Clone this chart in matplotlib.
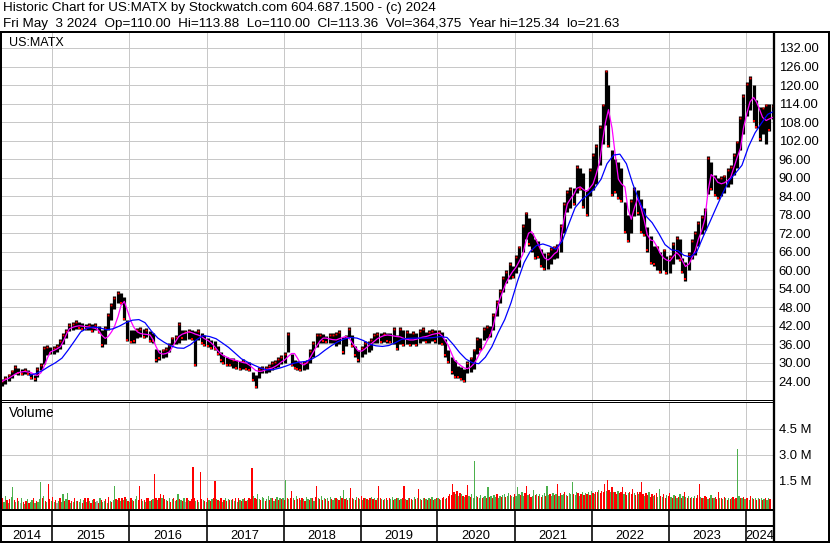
import numpy as np
import pandas as pd
import matplotlib
matplotlib.use('Agg')
import matplotlib.pyplot as plt
import matplotlib.dates as mdates
from matplotlib.lines import Line2D

plt.rcParams['font.family'] = ['Liberation Sans', 'DejaVu Sans']

# ---- data ----
title_1 = 'Historic Chart for US:MATX by Stockwatch.com 604.687.1500 - (c) 2024'
title_2 = 'Fri May  3 2024  Op=110.00  Hi=113.88  Lo=110.00  Cl=113.36  Vol=364,375  Year hi=125.34  lo=21.63'
symbol = 'US:MATX'

# half-month price ranges, May 2014 .. May 2024
price_lo = [
    22.5, 23.2, 24.0, 25.0, 26.5, 26.2, 26.0, 26.5, 26.0, 24.8, 24.2, 25.5, 27.6, 29.5, 32.5, 32.8,
    33.0, 33.5, 34.5, 36.0, 38.0, 40.2, 40.6, 41.0, 40.8, 40.5, 40.5, 40.6, 40.0, 40.5, 39.5, 35.2, 36.0, 40.6, 43.8, 47.5, 49.5, 49.0, 43.8, 37.0,
    36.3, 36.5, 37.9, 38.2, 37.9, 38.5, 36.8, 36.5, 30.4, 31.0, 31.4, 32.0, 33.5, 35.7, 36.0, 36.5, 37.5, 37.4, 37.8, 37.4, 28.8, 37.5, 36.0, 35.3,
    35.0, 34.5, 34.2, 32.5, 30.4, 29.5, 28.8, 29.0, 28.3, 28.0, 27.7, 28.0, 27.7, 27.2, 24.0, 21.8, 25.0, 26.6, 26.8, 27.0, 27.7, 28.2, 28.5, 29.5,
    30.0, 33.6, 29.0, 28.0, 27.5, 27.2, 27.5, 28.0, 30.0, 32.0, 35.0, 36.3, 36.5, 36.3, 36.5, 36.5, 35.3, 36.0, 33.0, 35.5, 38.5, 35.0, 32.0, 30.4,
    32.0, 33.0, 33.5, 34.0, 36.3, 36.5, 36.3, 36.8, 36.5, 36.3, 36.0, 34.2, 36.0, 35.5, 36.0, 35.3, 36.0, 35.5, 36.5, 37.0, 36.3, 36.5, 37.0, 36.5,
    36.0, 35.7, 32.0, 30.0, 26.5, 25.0, 25.0, 24.5, 23.8, 26.6, 27.0, 28.0, 33.0, 34.0, 37.3, 38.0, 38.5, 40.6, 45.0, 49.5, 53.0, 56.0, 57.0, 57.5,
    59.0, 61.0, 66.0, 70.0, 68.0, 66.0, 63.5, 64.0, 61.0, 60.0, 60.5, 62.0, 63.5, 64.0, 66.0, 72.0, 79.0, 80.0, 81.0, 85.0, 86.0, 80.0, 77.6, 84.0,
    86.0, 88.0, 94.0, 101.0, 107.0, 100.0, 84.0, 85.0, 83.0, 82.0, 72.0, 69.0, 72.0, 77.6, 78.0, 72.0, 71.0, 66.0, 62.0, 61.5, 60.0, 59.0, 60.0, 58.7,
    59.0, 62.0, 63.5, 63.0, 59.0, 56.6, 60.0, 63.6, 65.0, 68.0, 71.6, 73.0, 84.7, 86.0, 84.0, 83.0, 84.0, 85.0, 87.0, 88.0, 91.0, 93.0, 99.0, 104.0,
    110.0, 112.0, 108.0, 106.0, 102.0, 104.0, 101.0, 105.0, 109.0,
]
price_hi = [
    24.8, 25.6, 26.5, 27.8, 29.2, 28.4, 28.0, 28.2, 27.8, 26.8, 26.2, 28.5, 30.0, 35.5, 35.7, 35.2,
    35.5, 36.0, 37.8, 39.5, 41.0, 43.0, 43.3, 43.8, 43.2, 43.0, 42.7, 43.0, 42.5, 42.8, 42.0, 40.5, 42.0, 46.0, 49.3, 51.5, 53.2, 52.5, 51.4, 44.0,
    40.6, 40.5, 41.2, 41.5, 41.0, 41.2, 40.2, 39.5, 34.5, 34.0, 34.6, 35.0, 36.5, 38.5, 39.0, 43.3, 40.6, 40.6, 41.0, 40.5, 40.2, 41.0, 39.6, 39.0,
    38.0, 37.5, 37.0, 35.3, 33.5, 32.6, 32.0, 31.5, 31.5, 31.0, 30.5, 31.2, 30.4, 30.2, 27.0, 26.1, 28.5, 28.8, 29.0, 29.5, 30.5, 31.0, 31.8, 32.6,
    33.5, 40.0, 33.0, 31.0, 30.5, 30.2, 30.5, 31.0, 34.5, 37.0, 39.6, 39.6, 39.2, 38.8, 39.5, 39.5, 40.0, 40.5, 38.5, 39.0, 41.7, 39.0, 35.3, 34.0,
    35.5, 37.0, 37.0, 38.0, 39.5, 40.0, 39.6, 40.0, 39.8, 39.5, 41.7, 39.0, 41.5, 40.5, 40.7, 39.5, 40.2, 39.8, 41.0, 41.7, 40.0, 40.5, 41.0, 40.5,
    40.7, 40.0, 37.8, 34.1, 32.0, 30.8, 29.0, 28.5, 28.0, 30.5, 32.0, 34.6, 38.4, 38.0, 41.5, 42.2, 42.0, 46.0, 50.3, 54.0, 58.0, 60.0, 62.5, 61.5,
    65.0, 68.0, 75.0, 79.0, 77.0, 72.0, 70.0, 69.5, 67.0, 65.5, 66.0, 67.5, 68.0, 68.5, 75.0, 82.0, 86.0, 87.0, 86.5, 94.0, 93.0, 91.6, 86.0, 93.0,
    98.0, 101.0, 107.0, 114.0, 125.0, 120.0, 99.0, 96.0, 95.0, 93.0, 82.0, 78.0, 83.0, 87.0, 86.0, 83.0, 80.0, 74.0, 71.0, 68.0, 68.0, 66.0, 67.0, 64.7,
    65.0, 69.0, 71.0, 70.0, 64.0, 62.5, 66.0, 70.0, 72.7, 76.0, 78.0, 80.0, 97.0, 95.0, 91.0, 90.0, 90.5, 91.0, 93.0, 94.0, 98.0, 102.0, 110.0, 117.0,
    121.0, 123.0, 120.0, 115.0, 113.0, 113.0, 114.0, 113.9, 113.9,
]
# short moving average (magenta), one value per half-month
ma_short = [
    24.0, 24.5, 25.0, 25.6, 26.3, 26.8, 27.0, 27.2, 27.0, 26.8, 26.2, 25.9, 26.8, 28.8, 31.5, 33.5,
    34.0, 34.5, 35.2, 37.0, 39.2, 41.0, 41.5, 41.8, 42.0, 41.9, 41.7, 41.6, 41.4, 41.2, 40.5, 39.0, 37.9, 38.5, 40.0, 41.7, 45.0, 48.5, 49.9, 47.0,
    43.5, 41.5, 40.0, 39.5, 39.3, 39.2, 39.0, 37.5, 35.0, 33.2, 32.8, 33.0, 33.5, 35.0, 37.0, 38.5, 39.3, 39.6, 40.0, 39.8, 39.3, 39.0, 38.5, 37.8,
    37.2, 36.5, 35.3, 34.0, 33.0, 32.3, 31.8, 31.3, 31.0, 30.7, 30.4, 30.1, 29.9, 29.3, 28.3, 27.5, 27.2, 27.3, 27.7, 28.0, 28.3, 28.8, 29.5, 30.3,
    31.0, 32.0, 33.0, 33.0, 31.5, 29.8, 29.3, 30.0, 31.8, 33.5, 35.5, 37.0, 38.0, 38.0, 37.7, 37.5, 37.4, 37.8, 38.2, 38.5, 38.0, 36.5, 35.0, 33.8,
    33.8, 34.5, 35.5, 36.2, 37.0, 37.8, 38.4, 38.8, 39.0, 38.9, 38.7, 38.5, 38.4, 38.0, 37.6, 37.4, 37.4, 37.6, 38.0, 38.3, 38.5, 38.8, 39.2, 39.4,
    39.6, 38.8, 37.0, 35.5, 33.0, 30.8, 29.8, 29.0, 28.3, 28.1, 28.7, 29.7, 31.5, 33.5, 35.0, 37.0, 39.0, 42.0, 47.0, 50.5, 53.5, 56.0, 58.0, 59.5,
    61.0, 62.8, 65.0, 69.0, 72.0, 72.5, 70.5, 68.5, 66.0, 64.0, 63.3, 64.0, 65.3, 66.0, 70.0, 76.0, 81.5, 83.0, 84.5, 86.5, 87.0, 86.2, 85.5, 86.5,
    88.0, 91.0, 95.0, 102.0, 108.0, 112.0, 106.0, 98.0, 89.5, 88.0, 87.0, 80.0, 76.5, 80.0, 83.5, 80.5, 76.0, 71.5, 69.8, 69.5, 67.5, 65.5, 64.0, 63.3,
    63.0, 64.3, 65.7, 64.8, 63.0, 61.2, 62.0, 64.0, 66.5, 70.0, 73.0, 76.5, 86.0, 91.0, 90.0, 88.5, 88.0, 88.3, 89.0, 90.0, 93.5, 96.5, 99.5, 106.0,
    111.0, 114.5, 116.0, 114.5, 112.0, 109.5, 108.5, 109.0, 109.5,
]
# long moving average (blue), one value per month
ma_long = [
    np.nan, np.nan, np.nan, np.nan, 26.0, 26.5, 27.5, 28.8,
    30.0, 31.5, 34.0, 37.0, 40.0, 41.2, 41.6, 41.3, 40.7, 41.0, 41.9, 43.0,
    43.8, 44.0, 43.0, 40.2, 38.0, 36.6, 35.5, 34.8, 34.7, 35.8, 37.5, 38.8,
    38.5, 37.8, 36.5, 35.0, 33.2, 31.3, 30.2, 29.2, 28.3, 27.7, 27.8, 28.3,
    29.0, 29.8, 30.2, 30.4, 31.2, 32.4, 34.0, 35.5, 36.8, 37.7, 38.2, 38.0,
    37.2, 36.0, 35.5, 35.3, 35.6, 36.5, 37.6, 37.9, 38.0, 38.0, 38.0, 38.2,
    38.5, 38.2, 36.0, 33.3, 31.2, 30.0, 29.7, 31.8, 35.2, 39.8, 44.0, 49.5,
    56.5, 62.5, 66.0, 68.0, 68.5, 67.8, 66.8, 69.5, 75.0, 80.3, 82.8, 84.5,
    86.5, 89.5, 94.5, 97.3, 97.6, 94.5, 88.0, 82.5, 77.6, 75.4, 72.0, 68.3,
    66.6, 66.3, 64.8, 64.3, 66.0, 71.0, 75.5, 80.3, 85.0, 89.0, 91.5, 94.0,
    100.0, 104.5, 107.5, 110.5, 111.5,
]
# weekly volume in units of 10,000 shares; g = up week, r = down week, n = unchanged
volume_weeks = [
    '30g 45r 25g 60g 35r 20g 40r 55g 110g 35r 25g 50r 30g 20n 45g 25r 15g 30r 40g 20r 25g 35g 50r 20g 30r 25g 40g 140g 45r 60g 30r 25g 130r 40r 30g 55r 25g 35r 20n 30g 45r 25g 70g 30r 40g 75g 35r 20g 30r 25g 45r 30g',
    '30r 25g 40g 20r 35g 45r 25g 50r 30g 20r 35g 40r 25g 30n 20r 45g 35r 25g 30g 40r 20g 55r 30g 25r 35g 120g 40r 35g 50r 30g 45r 35g 55r 40g 30r 25g 45r 35g 30r 40g 60g 35r 115r 40r 30g 35r 25g 45r 50r 30g 35r 40g',
    '190r 45r 35g 50r 70r 45g 65r 40r 35g 30r 45g 25r 40g 50r 30g 35r 70g 40r 35g 30r 45g 25n 50r 35g 30r 40r 230r 45r 30g 35r 25g 200r 40r 35g 30r 25g 45r 35g 30r 40g 50r 145r 40g 35r 30g 45r 25g 35r 50g 30r 40g 35r',
    '35g 40r 30g 45r 25g 50r 35g 30r 40g 45r 30r 35g 50r 40r 225r 60g 45r 40r 70g 40g 35r 55g 45g 30r 40g 60g 35r 45g 50r 30g 40r 55g 35r 45g 40r 50g 35r 150g 45r 40g 50r 90r 45g 35r 60g 40r 50r 35g 45r 40g 30r 55g',
    '40g 35r 50g 45r 30g 55r 115r 45g 40r 60g 35r 50g 40r 45g 30r 55g 40r 35g 50g 45r 40g 35r 60g 45r 95g 40r 50g 35r 45g 105r 50r 40g 35r 55g 45r 40g 60r 35g 45r 50g 40r 35g 45r 55g 40r 50g 35r 45g 115r 45r 40g 35r',
    '40g 50r 35g 45r 40g 55g 35r 40g 50r 45g 35r 40g 45r 120r 40g 35r 50g 45r 40r 35g 55g 40r 45g 100r 40g 35r 45g 50r 40g 35r 45g 40r 55g 35r 40g 45r 50g 40r 35g 45r 55r 40g 50r 60r 70r 65r 130r 80r 70g 90r 60g 75r',
    '70g 60r 55g 65r 125r 60g 55r 70g 50g 265g 60g 55r 50g 65g 45r 55g 60g 50r 110g 55r 60g 50r 65g 55g 70r 50g 60g 55r 65g 70g 55r 60g 75g 65r 60g 55g 70r 60g 110g 70g 65r 80g 60g 75r 120r 65g 70r 55r 60g 95g 65r 70g',
    '60r 70g 55r 65g 75g 60r 120g 65g 70r 60g 75g 65r 70g 130r 60g 75r 65g 70g 80r 65g 60r 75g 70g 140g 70r 65g 80g 75r 60g 70r 85g 65r 75g 70r 80g 65r 90g 75r 70g 85r 80r 95g 75r 90r 85r 130r 90g 150r 95r 80g 110r 85g',
    '80r 70r 90g 75r 85r 110r 70g 80r 65r 75g 85r 70r 100r 75g 65r 80r 70g 85r 140r 70r 60g 75r 65r 80g 55r 70r 60g 65r 75r 55g 100g 60r 55g 70r 50r 65g 60r 75r 55g 50r 65g 60r 45g 55r 70g 50r 60g 80r 55g 50r 60g 45r',
    '55g 45r 60g 50r 65r 130r 55g 50r 45g 60r 55r 40g 50r 65g 45r 50g 55r 40r 85r 45g 50r 40g 55r 45g 35r 50g 40r 45g 55r 40g 50r 330g 60g 50r 45g 55r 40g 50r 45r 35g 60r 45g 40r 50g 35r 45g 40r 50g 35r 40g 45r 35g 50g 40r',
]
price_ticks = [24, 30, 36, 42, 48, 54, 60, 66, 72, 78, 84, 90, 96, 102, 108, 114, 120, 126, 132]
volume_ticks = [1.5e6, 3.0e6, 4.5e6]
volume_tick_labels = ['1.5 M', '3.0 M', '4.5 M']
years = list(range(2014, 2025))

# ---- dates ----
half_month = pd.date_range('2014-05-01', periods=len(price_lo), freq='SMS') + pd.Timedelta(days=7)
month_mid = pd.date_range('2014-05-01', periods=len(ma_long), freq='MS') + pd.Timedelta(days=14)
tokens = ' '.join(volume_weeks).split()
vol = np.array([int(t[:-1]) for t in tokens]) * 1e4
vol_col = [{'g': '#4cb04c', 'r': '#ff0000', 'n': '#a8a8a8'}[t[-1]] for t in tokens]
weeks = pd.date_range('2014-05-02', periods=len(vol), freq='W-FRI')

x0, x1 = mdates.date2num(pd.Timestamp('2014-05-02')), mdates.date2num(pd.Timestamp('2024-05-15'))
year_starts = [mdates.date2num(pd.Timestamp(f'{y}-01-01')) for y in years[1:]]

# ---- figure layout in pixels ----
W, H = 830, 543
fig = plt.figure(figsize=(W / 100, H / 100), dpi=100)
px = 0.72  # one pixel in points


def box(l, t, r, b):
    return [l / W, 1 - b / H, (r - l) / W, (b - t) / H]


def fig_line(xs, ys, lw):
    fig.add_artist(Line2D([x / W for x in xs], [1 - y / H for y in ys],
                          color='black', lw=lw * px, transform=fig.transFigure,
                          solid_capstyle='butt'))


grid_kw = dict(color='#c8c8c8', lw=1 * px)

# price panel
ax = fig.add_axes(box(1, 33, 774, 400))
ax.set_xlim(x0, x1)
ax.set_ylim(17.94, 136.86)
ax.set_yticks(price_ticks)
ax.set_yticklabels([f'{t:.2f}' for t in price_ticks])
ax.set_xticks(year_starts)
ax.yaxis.tick_right()
ax.tick_params(axis='y', length=0, pad=3.3, labelsize=9.4)
ax.tick_params(axis='x', length=0, labelbottom=False)
ax.grid(True, **grid_kw)
ax.set_axisbelow(True)
for s in ax.spines.values():
    s.set_visible(False)

hd = mdates.date2num(half_month)
ax.vlines(hd, price_lo, price_hi, color='black', lw=2.3, zorder=3)
lo_arr, hi_arr = np.array(price_lo), np.array(price_hi)
down = np.r_[False, hi_arr[1:] < hi_arr[:-1]]
ax.plot(hd[down], lo_arr[down] + 0.4, 's', color='red', ms=1.5, mew=0, zorder=4)
ax.plot(hd[~down], hi_arr[~down] - 0.6, 's', color='red', ms=1.3, mew=0, zorder=4)
ax.plot(hd, ma_short, color='#ff00ff', lw=0.9, zorder=5)
ax.plot(mdates.date2num(month_mid), ma_long, color='#0000ff', lw=0.9, zorder=5)

# volume panel
vbot = -0.163e6
axv = fig.add_axes(box(1, 402, 774, 509))
axv.set_xlim(x0, x1)
axv.set_ylim(vbot, 6.06e6)
axv.set_yticks(volume_ticks)
axv.set_yticklabels(volume_tick_labels)
axv.set_xticks(year_starts)
axv.yaxis.tick_right()
axv.tick_params(axis='y', length=0, pad=3.3, labelsize=9.4)
axv.tick_params(axis='x', length=0, labelbottom=False)
axv.grid(True, **grid_kw)
axv.set_axisbelow(True)
for s in axv.spines.values():
    s.set_visible(False)
axv.bar(mdates.date2num(weeks), vol - vbot, bottom=vbot, width=6.0,
        color=vol_col, lw=0, zorder=3)

# year strip
axy = fig.add_axes(box(1, 509, 774, 542))
axy.set_xlim(x0, x1)
axy.set_ylim(0, 1)
axy.axis('off')
axy.vlines(year_starts, 0, 1, color='black', lw=1.6 * px)
edges = [x0] + year_starts + [x1]
for i, y in enumerate(years):
    axy.text((edges[i] + edges[i + 1]) / 2, 0.1, str(y), ha='center', va='baseline', fontsize=9.3)

# frame lines
fig_line([0, W], [31.5, 31.5], 2)
fig_line([1, 1], [31, H], 2)
fig_line([774, 774], [31, H], 2.3)
fig_line([829, 829], [31, H], 2)
fig_line([0, 774], [400, 400], 1)
fig_line([0, 774], [402.3, 402.3], 1)
fig_line([0, 774], [509.5, 509.5], 2)
fig_line([0, 774], [526, 526], 2)
fig_line([0, W], [542, 542], 2)

# texts
fig.text(3 / W, 1 - 11.2 / H, title_1, fontsize=9.7, va='baseline')
fig.text(3 / W, 1 - 27.3 / H, title_2, fontsize=9.7, va='baseline')
fig.text(9 / W, 1 - 46 / H, symbol, fontsize=9.0, va='baseline')
fig.text(9 / W, 1 - 417.3 / H, 'Volume', fontsize=9.8, va='baseline')

fig.savefig('out.png', dpi=100)
